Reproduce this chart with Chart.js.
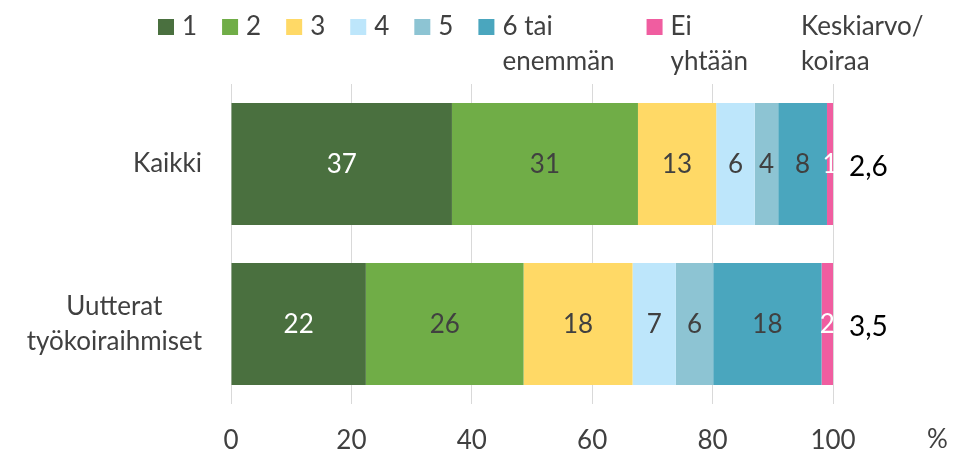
<!DOCTYPE html>
<html>
<head>
<meta charset="utf-8">
<script src="https://cdn.jsdelivr.net/npm/chart.js@4.4.0/dist/chart.umd.min.js"></script>
<style>
  html, body { margin: 0; padding: 0; background: #ffffff; }
  #wrap { width: 953px; height: 452px; position: relative; }
</style>
</head>
<body>
<div id="wrap"><canvas id="c" width="953" height="452"></canvas></div>
<script>
// ---- data ----
const categories = [['Kaikki'], ['Uutterat', 'työkoiraihmiset']];
const seriesNames = [['1'], ['2'], ['3'], ['4'], ['5'], ['6 tai', 'enemmän'], ['Ei', 'yhtään']];
const s1 = [36.7, 22.4];
const s2 = [30.9, 26.2];
const s3 = [13.0, 18.1];
const s4 = [6.4, 7.2];
const s5 = [3.9, 6.2];
const s6 = [8.1, 18.0];
const sEi = [1.0, 1.9];
const averages = [2.6, 3.5];
const averageHeader = ['Keskiarvo/', 'koiraa'];
const xTicks = [0, 20, 40, 60, 80, 100];
const unitLabel = '%';

const colors = ['#4A703F', '#70AD47', '#FFD966', '#BDE6FB', '#8DC4D3', '#4AA6BE', '#F05DA0'];
const labelColors = ['#ffffff', '#404040', '#404040', '#404040', '#404040', '#404040', '#ffffff'];
const seriesData = [s1, s2, s3, s4, s5, s6, sEi];

const FONT = 'Lato, "Open Sans", sans-serif';
const TXT = '#404040';

const overlay = {
  id: 'overlay',
  afterDatasetsDraw(chart) {
    const ctx = chart.ctx;
    const area = chart.chartArea;
    const yScale = chart.scales.y;
    ctx.save();
    ctx.textBaseline = 'middle';

    // bar value labels
    ctx.font = '26px ' + FONT;
    ctx.textAlign = 'center';
    chart.data.datasets.forEach((ds, di) => {
      const meta = chart.getDatasetMeta(di);
      meta.data.forEach((bar, i) => {
        const v = ds.data[i];
        const cx = (bar.x + bar.base) / 2;
        ctx.fillStyle = labelColors[di];
        ctx.fillText(String(Math.round(v)), cx, bar.y + 1);
      });
    });

    // category labels
    ctx.font = '26px ' + FONT;
    ctx.fillStyle = TXT;
    const lh = 35;
    categories.forEach((lines, i) => {
      const cy = yScale.getPixelForValue(i);
      let w = 0;
      lines.forEach(l => { w = Math.max(w, ctx.measureText(l).width); });
      const right = area.left - 29;
      const cx = right - w / 2;
      const y0 = cy - (lines.length - 1) * lh / 2;
      ctx.textAlign = 'center';
      lines.forEach((l, k) => ctx.fillText(l, cx, y0 + k * lh));
    });

    // averages
    ctx.font = '28px ' + FONT;
    ctx.fillStyle = '#000000';
    ctx.textAlign = 'left';
    averages.forEach((a, i) => {
      const cy = yScale.getPixelForValue(i);
      ctx.fillText(a.toFixed(1).replace('.', ','), area.right + 16, cy + 3);
    });

    // legend
    ctx.font = '26px ' + FONT;
    ctx.fillStyle = TXT;
    let x = 158;
    const legY = 27, legLH = 35, sq = 16;
    seriesNames.forEach((lines, i) => {
      ctx.fillStyle = colors[i];
      ctx.fillRect(x, legY - sq / 2, sq, sq);
      ctx.fillStyle = TXT;
      ctx.textAlign = 'left';
      let w = 0;
      lines.forEach((l, k) => {
        w = Math.max(w, ctx.measureText(l).width);
        ctx.fillText(l, x + sq + 8, legY + k * legLH);
      });
      x += sq + 8 + w + (lines.length > 1 ? 32 : 25);
    });
    averageHeader.forEach((l, k) => ctx.fillText(l, 801, legY + k * legLH));

    // unit
    ctx.textAlign = 'left';
    ctx.fillText(unitLabel, 927, 440);
    ctx.restore();
  }
};

new Chart(document.getElementById('c'), {
  type: 'bar',
  data: {
    labels: categories.map(c => c.join(' ')),
    datasets: seriesData.map((d, i) => ({
      label: seriesNames[i].join(' '),
      data: d,
      backgroundColor: colors[i],
      borderWidth: 0,
      barPercentage: 0.7625,
      categoryPercentage: 1.0
    }))
  },
  options: {
    indexAxis: 'y',
    responsive: false,
    animation: false,
    layout: { padding: { left: 231, right: 120, top: 84, bottom: 0 } },
    plugins: { legend: { display: false }, tooltip: { enabled: false } },
    scales: {
      x: {
        stacked: true,
        min: 0, max: 100,
        afterBuildTicks(scale) { scale.ticks = xTicks.map(v => ({ value: v })); },
        afterFit(scale) { scale.height = 48; },
        grid: { color: '#D9D9D9', lineWidth: 1, drawTicks: false },
        border: { display: false },
        ticks: { color: TXT, font: { family: FONT, size: 26 }, padding: 21 }
      },
      y: {
        stacked: true,
        display: false
      }
    }
  },
  plugins: [overlay]
});
</script>
</body>
</html>
